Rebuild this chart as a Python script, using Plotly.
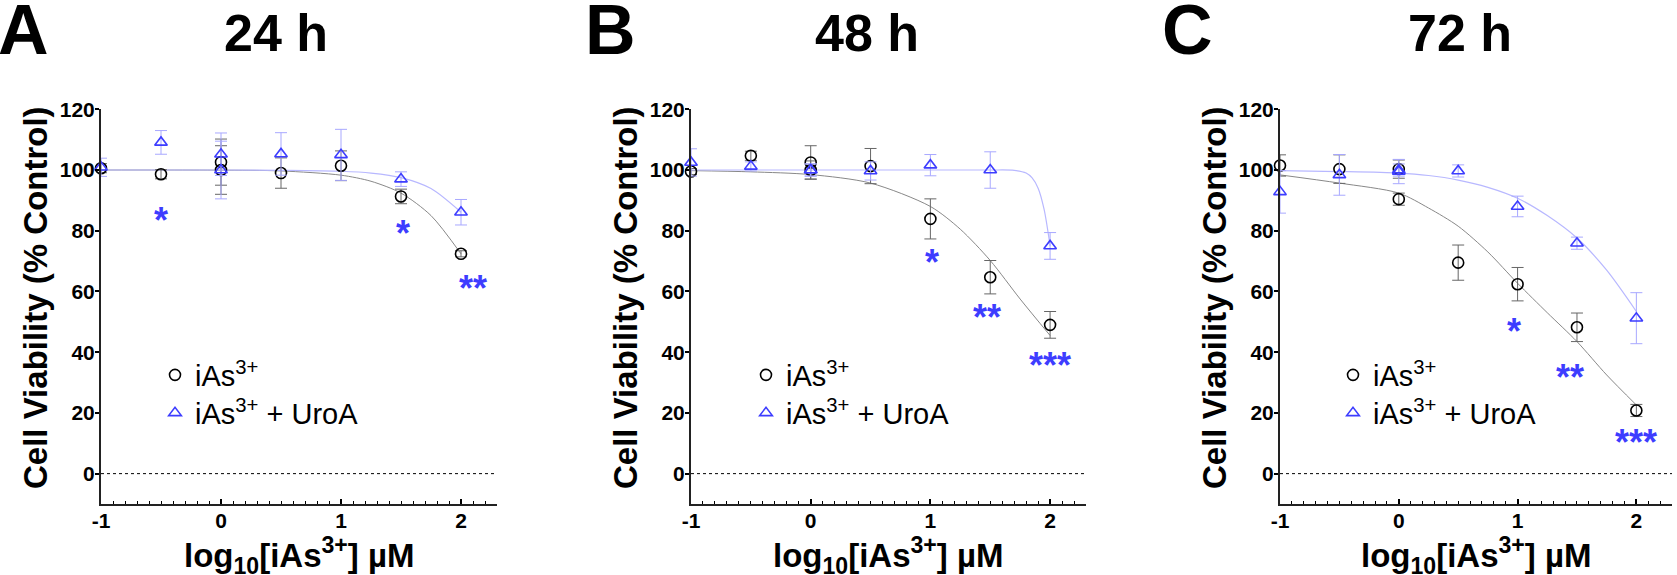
import plotly.graph_objects as go

# ---------------- data ----------------
panels = ["A", "B", "C"]
times = ["24 h", "48 h", "72 h"]

dose_log = [-1, -0.5, 0, 0, 0.5, 1, 1.5, 2]

ias_24 = [100.6, 98.6, 102.6, 100.0, 99.0, 101.4, 91.3, 72.4]
ias_24_err = [1.5, 1.5, 7.6, 8.0, 5.0, 4.9, 2.4, 1.0]
uroa_24 = [100.9, 109.1, 105.2, 100.0, 105.3, 105.0, 97.0, 86.1]
uroa_24_err = [3.0, 3.9, 7.0, 9.5, 7.0, 8.4, 2.4, 4.2]

ias_48 = [99.5, 104.7, 102.5, 100.0, 101.3, 83.9, 64.7, 49.0]
ias_48_err = [1.0, 1.5, 5.5, 3.0, 5.8, 6.6, 5.5, 4.4]
uroa_48 = [102.5, 101.2, 100.0, 100.0, 99.7, 101.6, 100.0, 75.0]
uroa_48_err = [4.5, 1.5, 2.0, 2.0, 3.0, 3.5, 6.0, 4.4]

ias_72 = [101.5, 100.3, 100.3, 90.4, 69.5, 62.4, 48.2, 20.8]
ias_72_err = [3.5, 4.7, 3.0, 2.0, 5.8, 5.5, 4.7, 2.0]
uroa_72 = [92.8, 98.4, 99.5, 100.0, 99.7, 88.0, 75.9, 51.2]
uroa_72_err = [7.0, 6.7, 4.0, 2.0, 2.0, 3.4, 2.0, 8.4]

# fitted curves
fit_x = [-1, -0.5, 0, 0.5, 1, 1.25, 1.5, 1.75, 2]
fit_ias_24 = [100, 100, 99.95, 99.7, 98.3, 96.3, 92.4, 85.0, 72.4]
fit_uroa_24 = [100, 100, 100, 99.9, 99.6, 99.0, 97.5, 93.9, 86.1]
fit_ias_48 = [99.8, 99.4, 98.5, 95.7, 88.0, 80.5, 70.2, 57.5, 45.5]
fit_uroa_48_x = [-1, 0, 1, 1.5, 1.7, 1.8, 1.85, 1.9, 1.95, 2]
fit_uroa_48 = [100, 100, 100, 100, 99.9, 99.0, 97.4, 94.0, 87.0, 75.0]
fit_x_72 = [-1, -0.5, 0, 0.25, 0.5, 0.75, 1, 1.25, 1.5, 1.75, 2]
fit_ias_72 = [98.4, 95.7, 92.4, 87.5, 81.5, 73.0, 62.7, 53.0, 43.5, 32.5, 22.6]
fit_uroa_72 = [99.8, 99.5, 99.0, 98.2, 96.7, 94.3, 90.7, 85.0, 77.6, 67.0, 53.4]

# significance marks: (x, y, label)
stars_24 = [(-0.5, 85.2, "*"), (1.52, 81.0, "*"), (2.1, 62.8, "**")]
stars_48 = [(1.01, 71.5, "*"), (1.47, 53.4, "**"), (2.0, 37.7, "***")]
stars_72 = [(0.97, 48.7, "*"), (1.44, 33.6, "**"), (2.0, 12.2, "***")]

series = [
    (ias_24, ias_24_err, uroa_24, uroa_24_err, fit_x, fit_ias_24, fit_x, fit_uroa_24, stars_24),
    (ias_48, ias_48_err, uroa_48, uroa_48_err, fit_x, fit_ias_48, fit_uroa_48_x, fit_uroa_48, stars_48),
    (ias_72, ias_72_err, uroa_72, uroa_72_err, fit_x_72, fit_ias_72, fit_x_72, fit_uroa_72, stars_72),
]

# ---------------- style ----------------
W, H = 1677, 575
FONT = "Liberation Sans, Arial, Helvetica, sans-serif"
BLUE = "#3d3dff"
BLUE_ERR = "#a8a8ff"
BLUE_FIT = "#b8b8ff"
BLACK_ERR = "#666666"
GRAY_FIT = "#888888"

x_px = [(101, 497), (691, 1086), (1280, 1672)]
y_top_px, y_bot_px = 109.3, 504
title_cx = [276, 867, 1460]
letter_x = [-4, 583, 1160]
legend_left_px = [155, 746, 1333]
legend_rows_px = [375, 413]

def px(xp):
    return xp / W

def py(yp):
    return 1 - yp / H

fig = go.Figure()
annotations = []
shapes = []
layout_extra = {}

for i, (ias, ias_e, uro, uro_e, fxi, fyi, fxu, fyu, stars) in enumerate(series):
    sfx = "" if i == 0 else str(i + 1)
    xa, ya = "x" + sfx, "y" + sfx
    leg_a = "legend" if i == 0 else "legend" + str(2 * i + 1)
    leg_b = "legend" + str(2 * i + 2)

    fig.add_trace(go.Scatter(x=fxi, y=fyi, mode="lines", line=dict(color=GRAY_FIT, width=1, shape="spline", smoothing=0.8),
                             xaxis=xa, yaxis=ya, showlegend=False, hoverinfo="skip"))
    fig.add_trace(go.Scatter(x=fxu, y=fyu, mode="lines", line=dict(color=BLUE_FIT, width=1.2, shape="spline", smoothing=0.8),
                             xaxis=xa, yaxis=ya, showlegend=False, hoverinfo="skip"))
    fig.add_trace(go.Scatter(x=dose_log, y=ias, mode="markers", name="iAs<sup>3+</sup>",
                             marker=dict(symbol="circle-open", size=11, color="black", line=dict(width=1.6, color="black")),
                             error_y=dict(type="data", array=ias_e, color=BLACK_ERR, thickness=1, width=6),
                             xaxis=xa, yaxis=ya, legend=leg_a, cliponaxis=False))
    fig.add_trace(go.Scatter(x=dose_log, y=uro, mode="markers", name="iAs<sup>3+</sup> + UroA",
                             marker=dict(symbol="triangle-up-open", size=11, color=BLUE, line=dict(width=1.6, color=BLUE)),
                             error_y=dict(type="data", array=uro_e, color=BLUE_ERR, thickness=1, width=6),
                             xaxis=xa, yaxis=ya, legend=leg_b, cliponaxis=False))

    # axes
    x0, x1 = x_px[i]
    layout_extra["xaxis" + sfx] = dict(
        domain=[px(x0), px(x1)], range=[-1, 2.3], anchor=ya,
        tickvals=[-1, 0, 1, 2], ticktext=["-1", "0", "1", "2"],
        ticks="inside", ticklen=5, tickwidth=1.5, tickcolor="black", ticklabelstandoff=-3,
        minor=dict(dtick=0.1, tick0=0, ticks="inside", ticklen=3, tickwidth=1.2, tickcolor="black"),
        showline=True, linewidth=2, linecolor="#222222", showgrid=False, zeroline=False, automargin=False,
        tickfont=dict(family=FONT, size=21, color="black", weight="bold"))
    layout_extra["yaxis" + sfx] = dict(
        domain=[py(y_bot_px), py(y_top_px)], range=[-10, 120], anchor=xa,
        tickvals=[0, 20, 40, 60, 80, 100, 120],
        ticks="outside", ticklen=4, tickwidth=1.5, tickcolor="black", ticklabelstandoff=-4,
        showline=True, linewidth=2, linecolor="#222222", showgrid=False, zeroline=False, automargin=False,
        tickfont=dict(family=FONT, size=21, color="black", weight="bold"))
    for leg, row in ((leg_a, legend_rows_px[0]), (leg_b, legend_rows_px[1])):
        layout_extra[leg] = dict(x=px(legend_left_px[i]), y=py(row), xanchor="left", yanchor="middle",
                                 bgcolor="rgba(0,0,0,0)", font=dict(family=FONT, size=29, color="black"),
                                 itemclick=False, itemdoubleclick=False)

    # dotted zero line
    shapes.append(dict(type="line", xref=xa + " domain", yref=ya, x0=0, x1=1, y0=0, y1=0,
                       line=dict(color="black", width=1, dash="dot")))

    # stars
    for (sx, sy, lab) in stars:
        annotations.append(dict(x=sx, y=sy, xref=xa, yref=ya, text=lab, showarrow=False,
                                font=dict(family=FONT, size=36, color=BLUE, weight="bold"),
                                xanchor="center", yanchor="middle", yshift=-6))

    # axis titles
    annotations.append(dict(x=px((x0 + x1) / 2), y=py(555), xref="paper", yref="paper",
                            text="log<sub>10</sub>[iAs<sup>3+</sup>] µM", showarrow=False,
                            font=dict(family=FONT, size=33, color="black", weight="bold"),
                            xanchor="center", yanchor="middle"))
    annotations.append(dict(x=px(x0 - 66), y=py(298), xref="paper", yref="paper",
                            text="Cell Viability (% Control)", textangle=-90, showarrow=False,
                            font=dict(family=FONT, size=33, color="black", weight="bold"),
                            xanchor="center", yanchor="middle"))
    # panel letter and time title
    annotations.append(dict(x=px(letter_x[i]), y=py(-11), xref="paper", yref="paper",
                            text=panels[i], showarrow=False,
                            font=dict(family=FONT, size=70, color="black", weight="bold"),
                            xanchor="left", yanchor="top"))
    annotations.append(dict(x=px(title_cx[i]), y=py(33.5), xref="paper", yref="paper",
                            text=times[i], showarrow=False,
                            font=dict(family=FONT, size=52, color="black", weight="bold"),
                            xanchor="center", yanchor="middle"))

fig.update_layout(
    width=W, height=H,
    margin=dict(l=0, r=0, t=0, b=0, autoexpand=False),
    paper_bgcolor="white", plot_bgcolor="white",
    annotations=annotations, shapes=shapes,
    showlegend=True,
    **layout_extra,
)

fig.write_html("out.html", config={"displayModeBar": False},
               post_script="document.body.style.margin='0';document.body.style.overflow='hidden';")
